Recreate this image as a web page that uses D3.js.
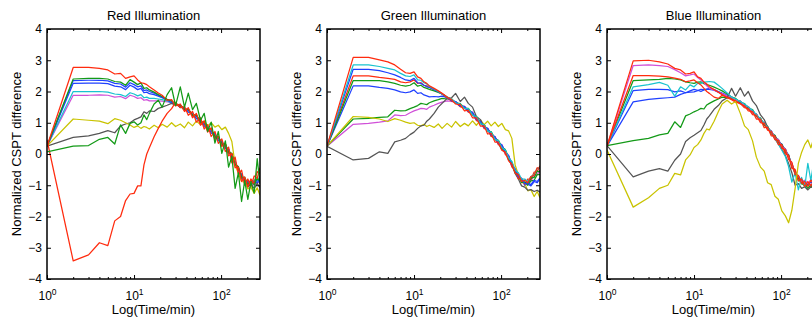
<!DOCTYPE html>
<html>
<head>
<meta charset="utf-8">
<script src="https://cdn.jsdelivr.net/npm/d3@7"></script>
<style>
body{margin:0;background:#fff;}
svg{display:block;font-family:"Liberation Sans",Arial,Helvetica,sans-serif;}
</style>
</head>
<body>
<div id="content"></div>
<script>
// sample times (min), shared by every curve
const times = [1,2,3,4,5,6,7,8,9,10,11,12,13,14,15,
  17,19,21,24,27,30,34,38,42,47,52,58,64,70,77,85,
  93,102,112,122,133,145,158,172,187,203,220,240,260,280];

const panelTitles = ["Red Illumination","Green Illumination","Blue Illumination"];
const yTicks = [-4,-3,-2,-1,0,1,2,3,4];
const xMajor = [1,10,100];
const xMinor = [2,3,4,5,6,7,8,9,20,30,40,50,60,70,80,90,200];

const lineColors = {red:"#ff2b0e", green:"#139a17", blue:"#1f40ff", cyan:"#19c3cf",
                    magenta:"#d050d8", yellow:"#c9c300", gray:"#555555"};

////////////////// Red illumination
const rRed1 = [0.25,2.77,2.77,2.74,2.69,2.56,2.58,2.42,2.47,2.50,2.37,2.28,2.26,2.22,2.15,
  2.05,1.95,1.88,1.72,1.74,1.54,1.60,1.36,1.48,1.16,1.30,0.92,1.06,0.70,0.84,0.46,
  0.58,0.24,0.34,-0.06,0.02,-0.44,-0.42,-0.88,-0.74,-1.06,-0.80,-0.94,-0.56,-0.62];
const rRed2 = [0.45,-3.42,-3.23,-2.84,-2.93,-2.14,-2.00,-1.49,-1.28,-1.26,-1.02,-1.02,-0.35,0.00,0.20,
  0.55,0.82,1.05,1.30,1.45,1.65,1.48,1.52,1.24,1.36,1.02,1.16,0.80,0.94,0.56,0.72,
  0.34,0.48,0.08,0.22,-0.28,-0.10,-0.64,-0.52,-1.00,-0.80,-1.04,-0.70,-0.78,-0.44];
const rGreen1 = [0.25,2.40,2.42,2.42,2.40,2.32,2.30,2.20,2.38,2.30,2.22,2.28,2.10,2.12,2.05,
  1.98,1.90,1.84,1.75,1.70,1.60,1.57,1.44,1.44,1.24,1.26,1.02,1.02,0.80,0.80,0.56,
  0.56,0.32,0.32,0.06,0.02,-0.34,-0.40,-0.76,-0.74,-0.98,-0.84,-0.98,-0.77,-0.88];
const rBlue1 = [0.25,2.35,2.36,2.36,2.34,2.26,2.24,2.14,2.28,2.22,2.15,2.18,2.03,2.05,2.00,
  1.95,1.88,1.82,1.74,1.69,1.59,1.56,1.43,1.42,1.24,1.23,1.02,0.99,0.80,0.77,0.56,
  0.53,0.32,0.29,0.06,-0.03,-0.32,-0.45,-0.74,-0.80,-0.95,-0.88,-0.95,-0.82,-0.87];
const rBlue2 = [0.25,2.26,2.27,2.27,2.25,2.17,2.15,2.06,2.20,2.14,2.06,2.10,1.96,1.98,1.93,
  1.90,1.85,1.80,1.73,1.64,1.62,1.49,1.48,1.34,1.32,1.13,1.11,0.89,0.89,0.67,0.65,
  0.43,0.41,0.19,0.15,-0.13,-0.23,-0.55,-0.65,-0.90,-0.87,-0.99,-0.87,-0.93,-0.80];
const rCyan = [0.25,2.00,2.00,2.00,1.98,1.92,1.90,1.84,1.96,1.92,1.86,1.90,1.80,1.82,1.78,
  1.78,1.76,1.74,1.70,1.63,1.62,1.49,1.48,1.34,1.32,1.13,1.11,0.89,0.89,0.67,0.65,
  0.43,0.41,0.19,0.15,-0.13,-0.23,-0.55,-0.65,-0.89,-0.85,-0.97,-0.83,-0.87,-0.71];
const rMagenta = [0.25,1.88,1.88,1.89,1.88,1.82,1.84,1.77,1.88,1.84,1.78,1.80,1.72,1.74,1.70,
  1.70,1.70,1.69,1.67,1.65,1.57,1.55,1.42,1.42,1.24,1.22,1.02,0.98,0.80,0.76,0.56,
  0.52,0.32,0.28,0.06,-0.04,-0.32,-0.46,-0.76,-0.84,-1.00,-0.94,-1.00,-0.88,-0.94];
const rYellow = [0.25,1.12,1.08,1.05,0.97,1.13,1.08,1.00,0.93,0.85,0.90,0.82,0.88,0.85,0.80,
  0.92,0.84,0.95,0.86,1.00,0.88,0.96,0.84,1.02,0.90,1.05,0.94,1.06,0.90,1.00,0.86,
  0.92,0.78,0.86,0.66,0.40,-0.35,-0.62,-0.88,-0.90,-1.12,-1.06,-1.26,-1.08,-1.32];
const rGray = [0.25,0.53,0.58,0.66,0.75,0.68,0.90,0.96,1.00,1.09,1.14,1.19,1.35,1.30,1.38,
  1.36,1.46,1.50,1.56,1.62,1.56,1.54,1.40,1.44,1.22,1.25,0.98,1.02,0.76,0.80,0.52,
  0.56,0.28,0.32,0.02,0.00,-0.36,-0.44,-0.80,-0.82,-1.06,-0.96,-1.10,-0.94,-1.08];
const rGreen2 = [0.07,0.25,0.27,0.47,0.53,0.32,0.93,0.66,0.98,1.03,0.93,1.00,1.25,1.10,1.30,
  1.60,1.72,1.50,1.90,2.12,1.55,2.15,1.50,1.95,1.42,1.62,1.08,1.30,0.72,1.02,0.35,
  0.72,0.02,0.42,-0.42,-0.08,-1.10,-0.60,-1.52,-0.85,-1.45,-0.90,-1.25,-0.15,-0.95];

////////////////// Green illumination
const gRed1 = [0.25,3.09,3.09,3.01,2.95,2.85,2.71,2.60,2.58,2.63,2.47,2.42,2.31,2.26,2.18,
  2.10,2.02,1.94,1.82,1.74,1.60,1.58,1.38,1.40,1.16,1.16,0.89,0.90,0.64,0.66,0.38,
  0.38,0.12,0.06,-0.22,-0.32,-0.61,-0.66,-0.88,-0.84,-0.92,-0.72,-0.68,-0.44,-0.46];
const gCyan = [0.25,2.85,2.85,2.80,2.74,2.69,2.58,2.50,2.48,2.53,2.37,2.36,2.28,2.24,2.16,
  2.08,2.00,1.93,1.82,1.76,1.64,1.60,1.46,1.45,1.25,1.19,0.97,0.93,0.74,0.70,0.47,
  0.43,0.21,0.13,-0.12,-0.24,-0.52,-0.60,-0.80,-0.80,-0.88,-0.72,-0.66,-0.46,-0.44];
const gBlue1 = [0.25,2.71,2.71,2.67,2.60,2.53,2.45,2.37,2.35,2.42,2.28,2.26,2.20,2.15,2.13,
  2.06,1.99,1.92,1.81,1.71,1.67,1.53,1.51,1.36,1.32,1.10,1.04,0.84,0.81,0.61,0.54,
  0.34,0.28,0.04,-0.06,-0.35,-0.48,-0.73,-0.78,-0.96,-0.92,-0.98,-0.84,-0.88,-0.76];
const gRed2 = [0.25,2.50,2.50,2.45,2.42,2.39,2.31,2.28,2.31,2.37,2.26,2.28,2.20,2.18,2.13,
  2.06,1.99,1.92,1.80,1.69,1.65,1.51,1.49,1.34,1.30,1.07,1.03,0.81,0.79,0.56,0.54,
  0.30,0.26,-0.02,-0.08,-0.42,-0.50,-0.80,-0.78,-0.98,-0.80,-0.82,-0.58,-0.56,-0.38];
const gGreen1 = [0.25,2.35,2.35,2.35,2.31,2.26,2.20,2.17,2.20,2.28,2.17,2.20,2.13,2.10,2.07,
  2.02,1.97,1.92,1.82,1.76,1.64,1.60,1.46,1.45,1.25,1.19,0.97,0.93,0.74,0.70,0.47,
  0.43,0.18,0.11,-0.17,-0.29,-0.60,-0.67,-0.91,-0.90,-0.97,-0.77,-0.75,-0.55,-0.57];
const gBlue2 = [0.25,2.18,2.18,2.13,2.10,2.05,1.99,1.96,1.99,2.05,1.94,1.96,1.89,1.86,1.83,
  1.84,1.83,1.85,1.80,1.71,1.68,1.54,1.52,1.37,1.33,1.11,1.05,0.85,0.82,0.62,0.55,
  0.35,0.29,0.05,-0.06,-0.36,-0.50,-0.76,-0.82,-1.00,-0.96,-1.02,-0.88,-0.92,-0.80];
const gGreen2 = [0.25,1.12,1.14,1.17,1.19,1.40,1.38,1.39,1.45,1.50,1.55,1.62,1.60,1.58,1.64,
  1.70,1.74,1.78,1.76,1.74,1.64,1.61,1.47,1.46,1.26,1.20,0.98,0.94,0.75,0.71,0.48,
  0.44,0.22,0.14,-0.12,-0.26,-0.56,-0.66,-0.88,-0.90,-1.00,-0.86,-0.84,-0.66,-0.66];
const gMagenta = [0.25,0.95,0.98,1.02,1.06,1.25,1.23,1.24,1.32,1.38,1.42,1.46,1.45,1.43,1.50,
  1.56,1.62,1.66,1.70,1.68,1.68,1.55,1.53,1.38,1.34,1.12,1.06,0.86,0.83,0.63,0.56,
  0.36,0.30,0.06,-0.04,-0.34,-0.48,-0.74,-0.80,-0.96,-0.86,-0.86,-0.68,-0.66,-0.51];
const gYellow = [0.25,1.20,1.17,1.12,1.04,1.13,1.08,1.02,0.98,1.00,0.92,0.90,0.95,0.88,0.92,
  0.85,0.96,0.82,0.98,0.86,1.04,0.88,0.98,0.90,1.06,0.92,1.08,0.94,1.05,0.90,1.02,
  0.88,0.98,0.78,0.74,0.50,-0.35,-0.66,-0.92,-0.94,-1.18,-1.14,-1.36,-1.20,-1.40];
const gGray = [0.25,-0.19,-0.14,0.07,0.02,0.39,0.44,0.50,0.62,0.70,0.82,0.90,0.92,1.05,1.12,
  1.30,1.50,1.62,1.78,1.80,1.94,1.68,1.82,1.62,1.50,1.20,1.10,0.84,0.80,0.58,0.50,
  0.34,0.14,0.04,-0.18,-0.36,-0.62,-0.80,-1.02,-1.06,-1.16,-1.14,-1.20,-1.16,-1.22];

////////////////// Blue illumination
const bRed1 = [0.25,2.98,3.00,2.95,2.88,2.74,2.69,2.56,2.58,2.63,2.47,2.42,2.30,2.24,2.15,
  2.06,1.98,1.90,1.80,1.74,1.66,1.62,1.48,1.46,1.26,1.24,1.00,0.98,0.76,0.72,0.46,
  0.44,0.18,0.14,-0.18,-0.26,-0.66,-0.68,-0.94,-0.88,-1.04,-0.84,-0.96,-0.76,-0.88];
const bMagenta = [0.25,2.83,2.85,2.83,2.80,2.70,2.60,2.50,2.53,2.56,2.45,2.37,2.28,2.18,2.10,
  2.04,1.98,1.93,1.86,1.82,1.72,1.69,1.54,1.52,1.32,1.28,1.06,1.00,0.80,0.74,0.51,
  0.46,0.24,0.16,-0.10,-0.31,-0.62,-0.70,-0.88,-0.84,-0.94,-0.82,-0.86,-0.76,-0.82];
const bRed2 = [0.25,2.51,2.51,2.49,2.47,2.43,2.39,2.31,2.34,2.37,2.28,2.21,2.10,2.00,1.94,
  1.82,1.78,1.88,1.82,1.76,1.70,1.60,1.54,1.38,1.36,1.12,1.12,0.84,0.86,0.58,0.58,
  0.30,0.30,0.00,-0.04,-0.46,-0.49,-0.86,-0.80,-1.04,-0.88,-1.02,-0.82,-0.94,-0.78];
const bGreen1 = [0.25,2.35,2.37,2.39,2.42,2.40,2.37,2.31,2.28,2.26,2.30,2.31,2.25,2.22,2.20,
  2.14,2.08,2.02,1.92,1.82,1.78,1.65,1.61,1.46,1.42,1.20,1.15,0.91,0.89,0.65,0.60,
  0.35,0.31,0.05,-0.03,-0.41,-0.55,-0.85,-0.87,-1.05,-0.99,-1.07,-0.95,-1.11,-1.05];
const bCyan = [0.25,2.15,2.22,2.29,2.20,1.85,2.15,2.05,2.21,2.15,2.26,2.26,2.30,2.31,2.32,
  2.30,2.20,2.10,1.95,1.82,1.76,1.68,1.60,1.50,1.40,1.26,1.12,0.98,0.85,0.70,0.50,
  0.32,0.12,-0.08,-0.40,-0.90,-0.60,-1.15,-0.75,-1.05,-0.30,-0.85,-0.15,-0.50,-0.40];
const bBlue1 = [0.25,2.03,2.07,2.07,2.06,1.99,2.02,1.96,2.02,2.07,2.04,2.00,2.05,2.08,2.10,
  2.06,2.00,1.95,1.88,1.83,1.72,1.69,1.54,1.52,1.32,1.28,1.06,1.00,0.80,0.74,0.51,
  0.46,0.24,0.16,-0.10,-0.31,-0.62,-0.70,-0.90,-0.88,-1.00,-0.90,-0.94,-0.84,-0.90];
const bBlue2 = [0.25,1.67,1.75,1.78,1.80,1.82,1.91,1.96,1.98,1.99,2.03,2.07,2.06,2.07,2.07,
  2.04,1.98,1.93,1.87,1.78,1.76,1.63,1.60,1.44,1.40,1.20,1.14,0.92,0.88,0.66,0.59,
  0.38,0.32,0.08,-0.02,-0.39,-0.54,-0.78,-0.82,-0.98,-0.94,-1.00,-0.90,-0.96,-0.86];
const bGreen2 = [0.27,0.43,0.50,0.61,0.66,1.03,0.85,1.22,1.28,1.35,1.40,1.46,1.44,1.57,1.62,
  1.70,1.76,1.82,1.80,1.80,1.72,1.69,1.54,1.52,1.32,1.28,1.06,1.00,0.80,0.74,0.51,
  0.46,0.24,0.16,-0.10,-0.31,-0.64,-0.74,-0.96,-0.98,-1.10,-1.00,-1.06,-1.00,-1.10];
const bGray = [0.27,-0.73,-0.55,-0.47,-0.55,-0.20,0.00,0.40,0.52,0.60,0.68,0.75,0.93,1.12,1.22,
  1.43,1.55,1.70,1.80,2.10,1.85,2.12,1.85,2.00,1.70,1.55,1.25,1.10,0.86,0.68,0.48,
  0.32,0.15,-0.05,-0.30,-0.60,-1.00,-0.95,-1.10,-1.05,-1.15,-1.05,-1.10,-1.10,-1.12];
const bYellow = [0.13,-1.70,-1.40,-1.10,-1.00,-0.62,-0.67,-0.19,-0.03,0.21,0.30,0.45,0.66,0.80,0.77,
  1.05,1.35,1.60,1.72,1.60,1.68,1.30,0.90,0.78,0.42,-0.10,-0.42,-0.55,-0.92,-0.98,-1.35,
  -1.45,-1.82,-1.98,-2.20,-1.80,-1.10,-0.30,0.05,0.30,0.45,0.20,0.55,0.10,0.40];

// draw order: first listed is drawn underneath
const panels = [
  [["magenta",rMagenta],["cyan",rCyan],["blue",rBlue2],["blue",rBlue1],["gray",rGray],
   ["yellow",rYellow],["green",rGreen1],["red",rRed1],["red",rRed2],["green",rGreen2]],
  [["magenta",gMagenta],["green",gGreen2],["blue",gBlue2],["yellow",gYellow],["gray",gGray],
   ["red",gRed2],["green",gGreen1],["blue",gBlue1],["cyan",gCyan],["red",gRed1]],
  [["blue",bBlue2],["blue",bBlue1],["green",bGreen2],["green",bGreen1],["magenta",bMagenta],
   ["gray",bGray],["cyan",bCyan],["red",bRed2],["red",bRed1],["yellow",bYellow]]
];

const W = 812, H = 320;
const plotW = 213, plotH = 250, plotTop = 29;
const panelLeft = [47, 327, 607];

const x = d3.scaleLog().domain([1, 280]).range([0, plotW]);
const y = d3.scaleLinear().domain([-4, 4]).range([plotH, 0]);

const line = d3.line()
  .x((d,i) => x(times[i]))
  .y(d => y(d));

const svg = d3.select("#content")
  .append("svg")
  .attr("width", W)
  .attr("height", H);

const fmtY = d => d < 0 ? "\u2212" + (-d) : String(d);

function cleanAxis(sel){
  sel.attr("font-size", null).attr("font-family", null);
  sel.select(".domain").remove();
  sel.selectAll(".tick line").attr("stroke", "#000");
}

panels.forEach((series, k) => {
  const g = svg.append("g").attr("transform", `translate(${panelLeft[k]},${plotTop})`);

  svg.append("clipPath").attr("id", "clip" + k)
    .append("rect").attr("width", plotW).attr("height", plotH);

  g.append("g")
    .attr("clip-path", `url(#clip${k})`)
    .selectAll("path")
    .data(series)
    .join("path")
      .attr("d", s => line(s[1]))
      .attr("fill", "none")
      .attr("stroke", s => lineColors[s[0]])
      .attr("stroke-width", 1.25)
      .attr("stroke-linejoin", "round");

  // y axes (left with labels, right ticks only)
  g.append("g")
    .call(d3.axisLeft(y).tickValues(yTicks).tickSize(-4).tickPadding(5).tickFormat(fmtY))
    .call(cleanAxis)
    .selectAll("text").attr("font-size", 12).attr("fill", "#000");
  g.append("g").attr("transform", `translate(${plotW},0)`)
    .call(d3.axisRight(y).tickValues(yTicks).tickSize(-4).tickFormat(""))
    .call(cleanAxis);

  // x axes, major + minor ticks on bottom and top
  const bottom = g.append("g").attr("transform", `translate(0,${plotH})`)
    .call(d3.axisBottom(x).tickValues(xMajor).tickSize(-4).tickFormat(""))
    .call(cleanAxis);
  g.append("g").attr("transform", `translate(0,${plotH})`)
    .call(d3.axisBottom(x).tickValues(xMinor).tickSize(-2).tickFormat(""))
    .call(cleanAxis);
  g.append("g")
    .call(d3.axisTop(x).tickValues(xMajor).tickSize(-4).tickFormat(""))
    .call(cleanAxis);
  g.append("g")
    .call(d3.axisTop(x).tickValues(xMinor).tickSize(-2).tickFormat(""))
    .call(cleanAxis);

  bottom.selectAll(".tick text").remove();
  bottom.selectAll(".tick").append("text")
    .attr("y", 20.5)
    .attr("text-anchor", "middle")
    .attr("fill", "#000")
    .attr("font-size", 12)
    .each(function(d){
      const t = d3.select(this);
      t.append("tspan").text("10");
      t.append("tspan").attr("font-size", 8.5).attr("dy", -5).text(Math.round(Math.log10(d)));
    });

  // box
  g.append("rect")
    .attr("width", plotW).attr("height", plotH)
    .attr("fill", "none").attr("stroke", "#000").attr("stroke-width", 1.5);

  g.append("text")
    .attr("x", plotW/2).attr("y", -9.5)
    .attr("text-anchor", "middle").attr("font-size", 13)
    .text(panelTitles[k]);
  g.append("text")
    .attr("x", plotW/2).attr("y", 285)
    .attr("text-anchor", "middle").attr("font-size", 13)
    .text("Log(Time/min)");
  g.append("text")
    .attr("transform", `translate(-26.5,${plotH/2}) rotate(-90)`)
    .attr("text-anchor", "middle").attr("font-size", 13)
    .text("Normalized CSPT difference");
});
</script>
</body>
</html>
